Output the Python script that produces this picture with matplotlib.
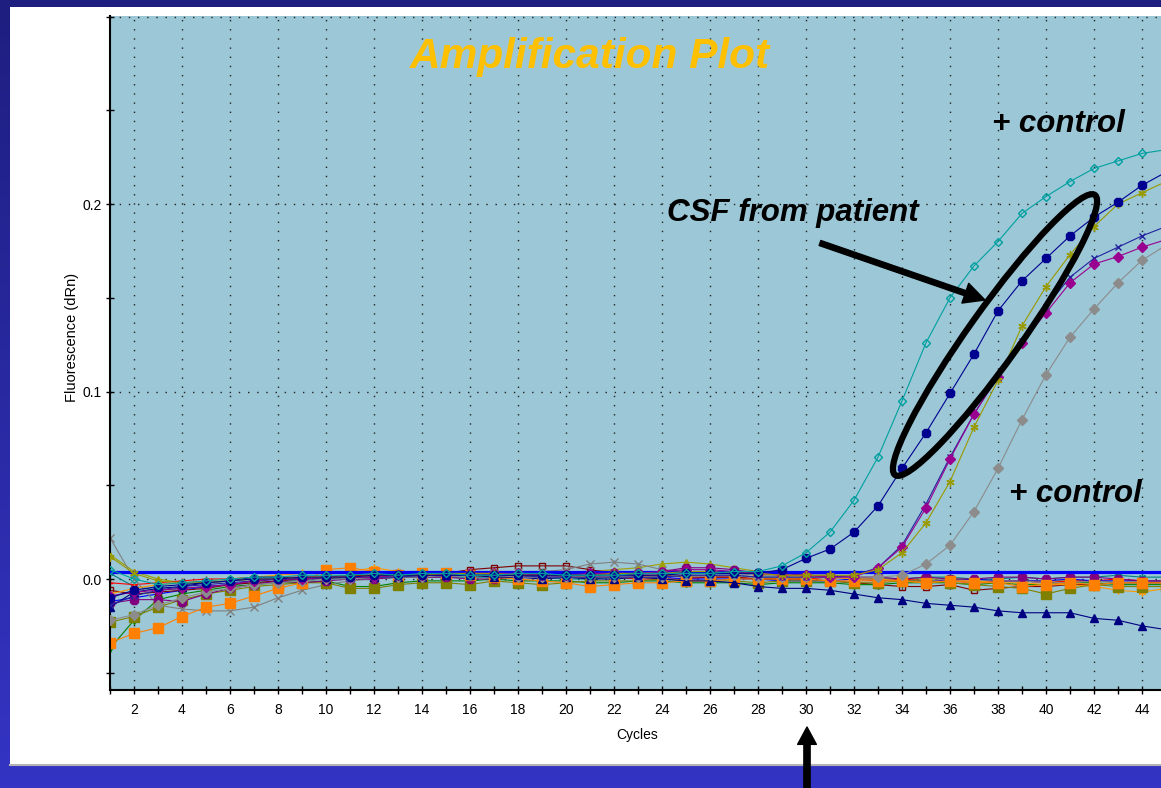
import numpy as np
import matplotlib.pyplot as plt
from matplotlib.patches import Ellipse, Rectangle
from matplotlib.colors import LinearSegmentedColormap

plt.rcParams['font.family'] = ['Liberation Sans Narrow', 'Liberation Sans', 'DejaVu Sans']

# ---- data (dRn x 1000, cycles 1..45) ----
cycles = list(range(1, 46))
threshold = 3.7

# amplified wells
pos_ctrl_top = [5, 0, -3, -2, -1, 0, 1, 1, 2, 2,
                2, 3, 2, 3, 3, 2, 2, 3, 3, 2,
                2, 2, 3, 3, 3, 3, 4, 4, 7, 14,
                25, 42, 65, 95, 126, 150, 167, 180, 195, 204,
                212, 219, 223, 227, 229]
csf_patient = [-10, -6, -4, -3, -2, -1, 0, 0, 1, 1,
               1, 2, 2, 2, 2, 2, 2, 2, 2, 2,
               2, 2, 2, 2, 3, 3, 3, 3, 5, 11,
               16, 25, 39, 59, 78, 99, 120, 143, 159, 171,
               183, 193, 201, 210, 217]
sample_magenta = [-9, -7, -6, -5, -4, -3, -1, 0, 0, 1,
                  1, 1, 2, 2, 2, 3, 3, 3, 2, 2,
                  3, 3, 3, 4, 5, 5, 4, 3, 2, 2,
                  1, 1, 6, 17, 38, 64, 88, 108, 126, 142,
                  158, 168, 172, 177, 181]
sample_olive = [12, 3, -1, -2, -2, -1, 0, 0, 1, 1,
                1, 2, 2, 2, 3, 3, 3, 2, 2, 2,
                2, 3, 3, 3, 4, 4, 3, 3, 2, 2,
                2, 2, 5, 14, 30, 52, 81, 106, 135, 156,
                173, 188, 200, 206, 212]
sample_navy = [-14, -9, -6, -4, -3, -2, -1, 0, 0, 1,
               1, 1, 1, 2, 2, 2, 2, 2, 1, 1,
               1, 1, 1, 1, 2, 2, 2, 1, 1, 1,
               1, 2, 6, 18, 40, 65, 88, 108, 127, 145,
               161, 171, 177, 183, 188]
pos_ctrl_low = [-22, -19, -14, -10, -7, -5, -3, -2, -1, 0,
                0, 1, 1, 1, 2, 2, 2, 1, 1, 1,
                1, 1, 1, 1, 2, 2, 2, 1, 1, 1,
                1, 1, 1, 2, 8, 18, 36, 59, 85, 109,
                129, 144, 158, 170, 178]
ntc_drift = [-15, -7, -5, -4, -2, -1, 1, 1, 0, 0,
             1, 1, 1, 1, 2, 2, 1, 1, 0, 1,
             0, 0, 1, 0, -1, -1, -2, -4, -5, -5,
             -6, -8, -10, -11, -13, -14, -15, -17, -18, -18,
             -18, -21, -22, -25, -27]

# negative wells (flat)
neg_orange = [-34, -29, -26, -20, -15, -13, -9, -5, -2, 5,
              6, 4, 2, 3, 3, 2, 1, 0, -1, -2,
              -4, -3, -2, -2, -1, -1, 0, 0, 0, 0,
              -1, -1, -1, -1, -2, -1, -2, -2, -4, -3,
              -2, -3, -2, -2, -2]
neg_olive = [-23, -20, -15, -11, -8, -6, -4, -3, -2, -2,
             -5, -5, -3, -2, -2, -3, -1, -2, -3, -2,
             -1, -1, -1, 0, -1, -1, -1, -2, -1, -1,
             -1, -2, -2, -1, -1, -2, -3, -4, -5, -8,
             -5, -3, -4, -4, -4]
neg_gray = [22, 0, -14, -16, -17, -17, -15, -10, -6, -3,
            -1, 0, 1, 1, 1, 2, 3, 4, 4, 5,
            8, 9, 8, 5, 4, 3, 3, 2, 2, 1,
            1, 0, 0, -1, -1, 0, -1, -1, -1, -2,
            -2, -1, -2, -1, -1]
neg_green = [-37, -22, -11, -8, -6, -4, -3, -2, -2, -1,
             -4, -4, -2, -1, -1, -1, 0, -1, -1, -1,
             -2, -2, -1, -1, -2, -2, -2, -3, -2, -2,
             -2, -3, -3, -2, -2, -2, -3, -2, -3, -3,
             -2, -2, -3, -3, -3]
neg_purple = [-13, -11, -11, -12, -8, -5, -3, -1, -2, -1,
              0, 0, 1, 1, 1, 0, 0, 1, 2, 2,
              2, 3, 3, 4, 6, 6, 5, 3, 3, 2,
              2, 1, 1, 0, 1, 0, 0, 1, 1, 0,
              1, 1, 0, -1, -1]
neg_teal = [3, -4, -6, -5, -4, -3, -2, -1, -1, 0,
            0, 0, 1, 1, 1, 1, 1, 1, 1, 0,
            0, 1, 1, 1, 2, 2, 2, 1, 1, 1,
            1, 1, 0, 0, 1, 1, 0, 0, 1, 0,
            1, 1, 2, 1, 1]
neg_darkred = [-6, -8, -7, -6, -5, -3, -2, -1, 0, 1,
               2, 2, 3, 3, 3, 5, 6, 7, 7, 7,
               5, 3, 2, 2, 1, 1, 1, 0, 0, 0,
               -1, -2, -3, -4, -4, -3, -6, -5, -4, -4,
               -3, -3, -2, -2, -2]
neg_red = [-2, -3, -2, -1, 0, 0, 1, 1, 1, 1,
           2, 2, 2, 2, 3, 3, 2, 2, 2, 1,
           1, 1, 0, 0, 0, 1, 1, 0, 0, 0,
           1, 0, -1, 0, -1, -1, -2, -1, -1, -2,
           -1, -1, 0, -1, -1]
neg_blue = [-12, -10, -8, -6, -4, -3, -1, 0, 0, 1,
            1, 1, 2, 2, 2, 2, 2, 1, 1, 1,
            1, 1, 1, 1, 0, 0, 0, 0, -1, -1,
            -1, 0, 0, -1, -1, -1, 0, -1, -1, -1,
            0, -1, -1, -1, -1]
neg_amber = [-8, -5, -3, -2, -1, 0, 1, 2, 3, 4,
             4, 6, 4, 4, 3, 3, 3, 2, 2, 2,
             1, 1, 1, 2, 3, 4, 4, 3, 2, 1,
             1, 0, 0, -1, -2, -1, -1, -2, -2, -3,
             -3, -4, -6, -7, -5]
neg_khaki = [13, 4, 0, -2, -2, -1, 0, 0, 0, 1,
             1, 1, 2, 2, 3, 3, 4, 4, 3, 3,
             4, 5, 6, 8, 9, 8, 6, 4, 3, 2,
             1, 1, 0, 0, 0, 0, 0, -1, -1, -1,
             -1, -1, -2, -2, -2]

asterisk = (6, 2, 0)

# (values, color, marker, markersize, filled)
flat_wells = [
    (neg_khaki, '#a0a000', '^', 5, True),
    (neg_teal, '#008080', asterisk, 5, True),
    (neg_red, '#ff0000', '+', 5, True),
    (neg_blue, '#0000ff', 'x', 4.5, True),
    (neg_darkred, '#800000', 's', 5, False),
    (neg_green, '#008000', 'v', 5.5, True),
    (neg_gray, '#808080', 'x', 5.5, True),
    (neg_amber, '#ff9900', asterisk, 5.5, True),
    (neg_olive, '#808000', 's', 6.5, True),
    (neg_purple, '#800080', '8', 6.5, True),
    (neg_orange, '#ff8000', 's', 6.5, True),
]
amp_wells = [
    (pos_ctrl_low, '#8c8c8c', 'D', 5, True),
    (sample_navy, '#2323a0', 'x', 5, True),
    (sample_magenta, '#99008f', 'D', 5, True),
    (sample_olive, '#999900', asterisk, 6, True),
    (csf_patient, '#000090', '8', 6.5, True),
    (pos_ctrl_top, '#00a0a0', 'D', 4.5, False),
]

W, H = 1161, 788
fig = plt.figure(figsize=(W / 100, H / 100), dpi=100)

# slide background: blue gradient + white panel (pixel coords)
bg = fig.add_axes([0, 0, 1, 1], zorder=0)
bg.set_xlim(0, W)
bg.set_ylim(H, 0)
bg.axis('off')
slide = LinearSegmentedColormap.from_list('slide', ['#1e1e80', '#3434c4'])
bg.imshow(np.linspace(0, 1, 256).reshape(-1, 1), cmap=slide,
          extent=(0, W, H, 0), aspect='auto')
bg.add_patch(Rectangle((10, 7), W - 10, 758, facecolor='white', edgecolor='none'))
bg.plot([10, W], [765, 765], color='#b4b4b4', lw=1.5)

# plot area
ax = fig.add_axes([110 / W, 1 - 690 / H, (W - 110) / W, 674 / H], zorder=1)
ax.set_facecolor('#9bc7d6')

for vals, col, mk, ms, filled in flat_wells:
    ax.plot(cycles, np.array(vals) / 1000, color=col, lw=0.8, marker=mk, ms=ms,
            mfc=col if filled else 'none', mec=col, mew=1.0, zorder=2)

ax.axhline(threshold / 1000, color='#0000ff', lw=2.3, zorder=3)

ax.plot(cycles, np.array(ntc_drift) / 1000, color='#000080', lw=0.8, marker='^',
        ms=6, mfc='#000080', mec='#000080', zorder=4)
for vals, col, mk, ms, filled in amp_wells:
    ax.plot(cycles, np.array(vals) / 1000, color=col, lw=0.8, marker=mk, ms=ms,
            mfc=col if filled else 'none', mec=col, mew=1.0, zorder=4)

ax.set_xlim(1, 1 + (W - 110) / 24)
ax.set_ylim(-0.0592, 0.3003)

ax.set_xticks(range(2, 45, 2))
ax.set_xticks(range(1, 45, 2), minor=True)
ax.set_yticks([0, 0.1, 0.2, 0.3])
ax.set_yticklabels(['0.0', '0.1', '0.2', ''])
ax.set_yticks([-0.05, 0.05, 0.15, 0.25], minor=True)
ax.tick_params(axis='both', which='both', direction='inout', length=6, width=1,
               colors='black', labelsize=10)
ax.tick_params(axis='x', pad=6)
ax.tick_params(axis='y', pad=3)
ax.grid(True, which='major', color='#222222', linestyle=(0, (1, 5.6)), lw=1.0)

for s in ['top', 'right']:
    ax.spines[s].set_visible(False)
ax.spines['left'].set_linewidth(1.5)
ax.spines['bottom'].set_linewidth(1.5)

ax.set_xlabel('Cycles', fontsize=10)
ax.xaxis.set_label_coords((637 - 110) / (W - 110), (690 - 735) / 674)
ax.xaxis.label.set_va('center')
ax.set_ylabel('Fluorescence (dRn)', fontsize=10.5)
ax.yaxis.set_label_coords((72 - 110) / (W - 110), (690 - 337) / 674)
ax.yaxis.label.set_va('center')

# annotations on top (pixel coords)
ov = fig.add_axes([0, 0, 1, 1], zorder=5)
ov.set_xlim(0, W)
ov.set_ylim(H, 0)
ov.axis('off')

big = ['Liberation Sans', 'DejaVu Sans']
ov.text(590, 68, 'Amplification Plot', color='#ffc000', fontsize=30.5,
        fontweight='bold', fontstyle='italic', family=big, ha='center', va='baseline')
ov.text(793, 221, 'CSF from patient', color='black', fontsize=22.5,
        fontweight='bold', fontstyle='italic', family=big, ha='center', va='baseline')
ov.text(1058, 132, '+ control', color='black', fontsize=22.5,
        fontweight='bold', fontstyle='italic', family=big, ha='center', va='baseline')
ov.text(1075, 502, '+ control', color='black', fontsize=22.5,
        fontweight='bold', fontstyle='italic', family=big, ha='center', va='baseline')

ov.add_patch(Ellipse((995, 335), width=344, height=52, angle=-54.5,
                     fill=False, edgecolor='black', lw=4.5))
ov.annotate('', xy=(985, 300), xytext=(820, 243),
            arrowprops=dict(width=3.8, headwidth=15, headlength=15,
                            color='black', shrink=0))
ov.annotate('', xy=(807, 727), xytext=(807, 795),
            arrowprops=dict(width=4.5, headwidth=13.5, headlength=12.5,
                            color='black', shrink=0))

plt.savefig('out.png', dpi=100)
